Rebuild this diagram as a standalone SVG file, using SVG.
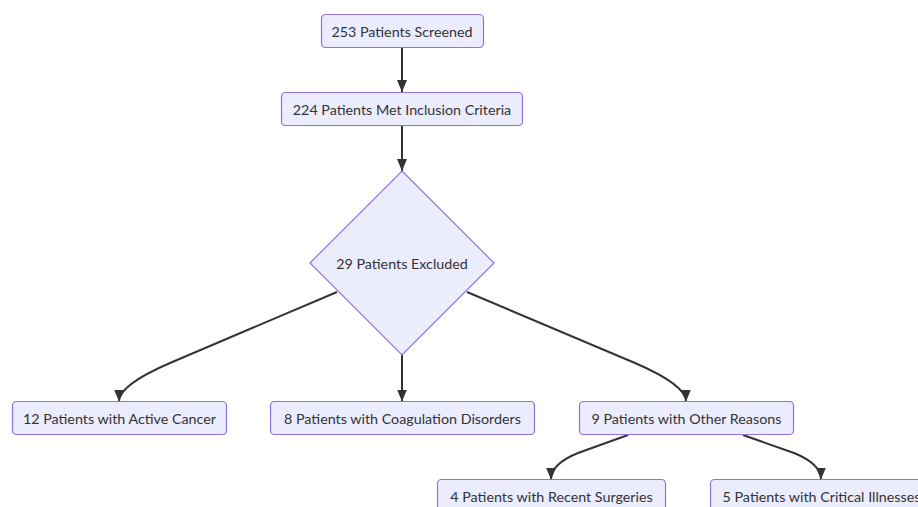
<svg xmlns="http://www.w3.org/2000/svg" width="918" height="507" viewBox="0 0 918 507">
<defs>
<marker id="arr" viewBox="0 0 12 10" refX="12" refY="5" markerWidth="12" markerHeight="10" markerUnits="userSpaceOnUse" orient="auto">
<path d="M0,0 L12,5 L0,10 z" fill="#333"/>
</marker>
<style>
.n rect, .n polygon { fill:#ECECFF; stroke:#9370DB; stroke-width:1.2; }
.n text { font-family: Lato, "Open Sans", sans-serif; font-size:14.3px; fill:#333; text-anchor:middle; dominant-baseline:central; }
.e path { fill:none; stroke:#333; stroke-width:2; marker-end:url(#arr); }
</style>
</defs>
<rect width="918" height="507" fill="#fff"/>
<g id="edges" class="e">
<path d="M402,48 L402,92"/>
<path d="M402,126 L402,171"/>
<path d="M402,355 L402,401.5"/>
<path d="M337,292 L170,363 Q119,385 119,401.5"/>
<path d="M467,292 L635,363 Q686,385 686,401.5"/>
<path d="M628,435 L578,453 Q551,464 551,479.5"/>
<path d="M743,435 L794,453 Q821,464 821,479.5"/>
</g>
<g id="n1" class="n"><rect x="321.5" y="14.5" width="162" height="33" rx="4"/><text x="402" y="31">253 Patients Screened</text></g>
<g id="n2" class="n"><rect x="281.5" y="92.5" width="241" height="33" rx="4"/><text x="402" y="109">224 Patients Met Inclusion Criteria</text></g>
<g id="n3" class="n"><polygon points="402,171 494,263 402,355 310,263"/><text x="402" y="263">29 Patients Excluded</text></g>
<g id="n4" class="n"><rect x="12.5" y="401.5" width="214" height="33" rx="4"/><text x="119.5" y="418">12 Patients with Active Cancer</text></g>
<g id="n5" class="n"><rect x="270.5" y="401.5" width="264" height="33" rx="4"/><text x="402.5" y="418">8 Patients with Coagulation Disorders</text></g>
<g id="n6" class="n"><rect x="579.5" y="401.5" width="214" height="33" rx="4"/><text x="686.5" y="418">9 Patients with Other Reasons</text></g>
<g id="n7" class="n"><rect x="437.5" y="479.5" width="228" height="33" rx="4"/><text x="551.5" y="496">4 Patients with Recent Surgeries</text></g>
<g id="n8" class="n"><rect x="710.5" y="479.5" width="222" height="33" rx="4"/><text x="821.5" y="496">5 Patients with Critical Illnesses</text></g>
</svg>
